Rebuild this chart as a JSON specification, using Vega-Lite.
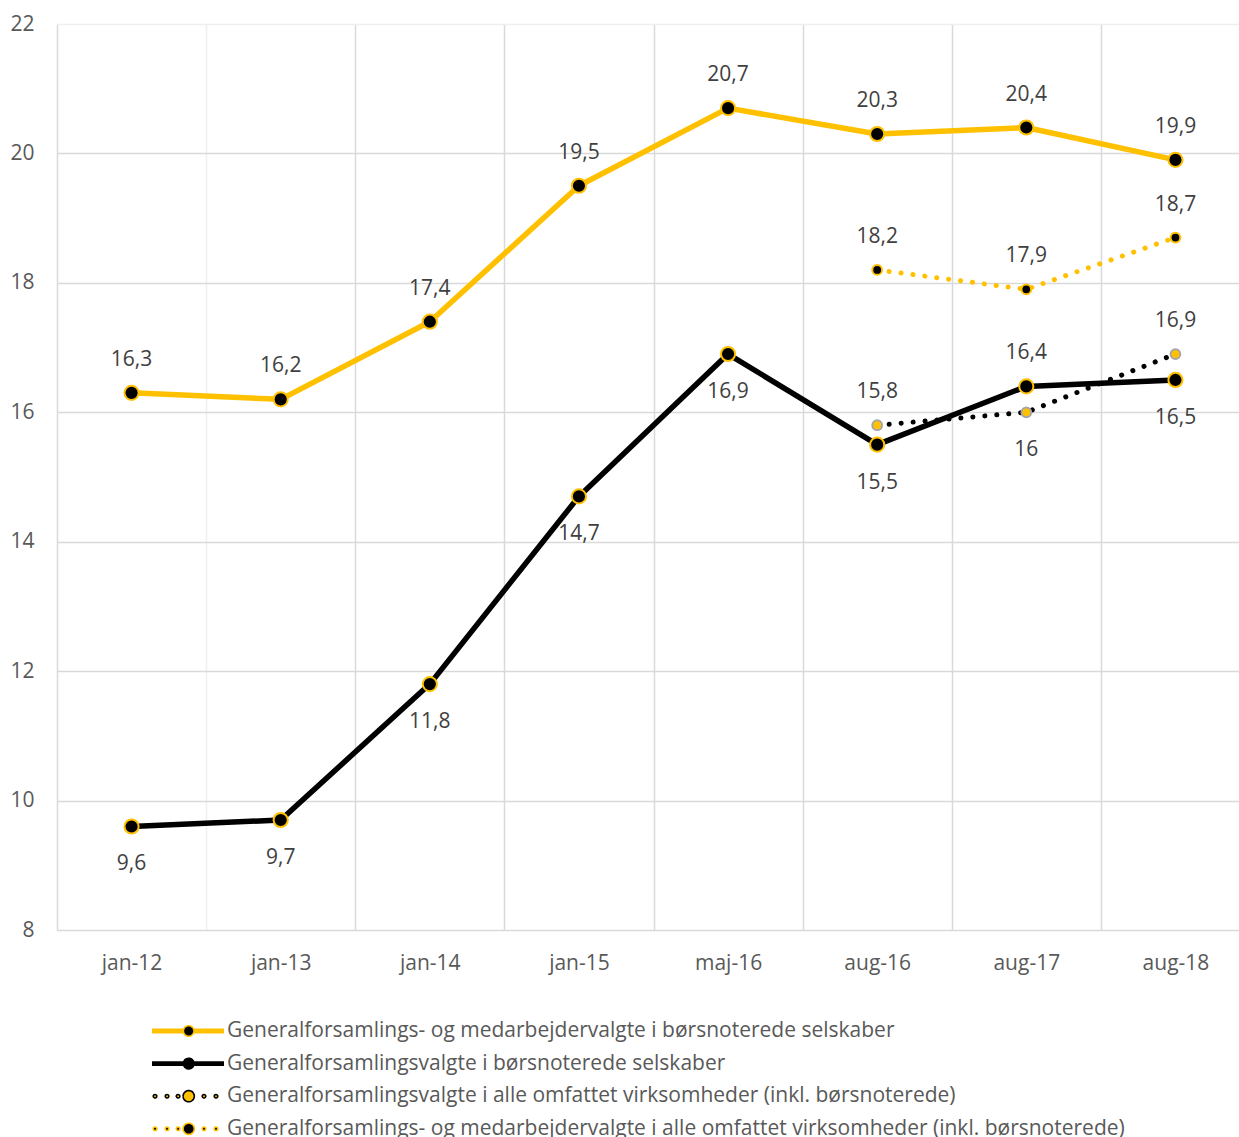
{
  "$schema": "https://vega.github.io/schema/vega-lite/v6.json",
  "autosize": "none",
  "width": 1182,
  "height": 906,
  "padding": {"left": 57, "top": 24, "right": 0, "bottom": 207},
  "background": "white",
  "config": {
    "view": {"stroke": null},
    "locale": {"number": {"decimal": ",", "thousands": ".", "grouping": [3], "currency": ["", " kr."]}},
    "font": "Open Sans"
  },
  "data": {
    "values": [
      {"periode": "jan-12", "serie": "Generalforsamlings- og medarbejdervalgte i børsnoterede selskaber", "andel": 16.3},
      {"periode": "jan-13", "serie": "Generalforsamlings- og medarbejdervalgte i børsnoterede selskaber", "andel": 16.2},
      {"periode": "jan-14", "serie": "Generalforsamlings- og medarbejdervalgte i børsnoterede selskaber", "andel": 17.4},
      {"periode": "jan-15", "serie": "Generalforsamlings- og medarbejdervalgte i børsnoterede selskaber", "andel": 19.5},
      {"periode": "maj-16", "serie": "Generalforsamlings- og medarbejdervalgte i børsnoterede selskaber", "andel": 20.7},
      {"periode": "aug-16", "serie": "Generalforsamlings- og medarbejdervalgte i børsnoterede selskaber", "andel": 20.3},
      {"periode": "aug-17", "serie": "Generalforsamlings- og medarbejdervalgte i børsnoterede selskaber", "andel": 20.4},
      {"periode": "aug-18", "serie": "Generalforsamlings- og medarbejdervalgte i børsnoterede selskaber", "andel": 19.9},
      {"periode": "jan-12", "serie": "Generalforsamlingsvalgte i børsnoterede selskaber", "andel": 9.6},
      {"periode": "jan-13", "serie": "Generalforsamlingsvalgte i børsnoterede selskaber", "andel": 9.7},
      {"periode": "jan-14", "serie": "Generalforsamlingsvalgte i børsnoterede selskaber", "andel": 11.8},
      {"periode": "jan-15", "serie": "Generalforsamlingsvalgte i børsnoterede selskaber", "andel": 14.7},
      {"periode": "maj-16", "serie": "Generalforsamlingsvalgte i børsnoterede selskaber", "andel": 16.9},
      {"periode": "aug-16", "serie": "Generalforsamlingsvalgte i børsnoterede selskaber", "andel": 15.5},
      {"periode": "aug-17", "serie": "Generalforsamlingsvalgte i børsnoterede selskaber", "andel": 16.4},
      {"periode": "aug-18", "serie": "Generalforsamlingsvalgte i børsnoterede selskaber", "andel": 16.5},
      {"periode": "aug-16", "serie": "Generalforsamlingsvalgte i alle omfattet virksomheder (inkl. børsnoterede)", "andel": 15.8},
      {"periode": "aug-17", "serie": "Generalforsamlingsvalgte i alle omfattet virksomheder (inkl. børsnoterede)", "andel": 16},
      {"periode": "aug-18", "serie": "Generalforsamlingsvalgte i alle omfattet virksomheder (inkl. børsnoterede)", "andel": 16.9},
      {"periode": "aug-16", "serie": "Generalforsamlings- og medarbejdervalgte i alle omfattet virksomheder (inkl. børsnoterede)", "andel": 18.2},
      {"periode": "aug-17", "serie": "Generalforsamlings- og medarbejdervalgte i alle omfattet virksomheder (inkl. børsnoterede)", "andel": 17.9},
      {"periode": "aug-18", "serie": "Generalforsamlings- og medarbejdervalgte i alle omfattet virksomheder (inkl. børsnoterede)", "andel": 18.7}
    ]
  },
  "encoding": {
    "x": {
      "field": "periode", "type": "ordinal",
      "sort": ["jan-12", "jan-13", "jan-14", "jan-15", "maj-16", "aug-16", "aug-17", "aug-18"],
      "scale": {"range": [0, 1193], "paddingInner": 0, "paddingOuter": 0},
      "axis": {
        "title": null, "domain": false, "ticks": false, "grid": true, "tickBand": "extent",
        "gridColor": {"condition": {"test": "datum.value === 'jan-12'", "value": "#efefef"}, "value": "#d9d9d9"},
        "gridWidth": 1.5,
        "labelAngle": 0, "labelFont": "Open Sans", "labelFontSize": 21, "labelColor": "#595959", "labelPadding": 22
      }
    },
    "y": {
      "field": "andel", "type": "quantitative",
      "scale": {"domain": [8, 22], "nice": false, "zero": false},
      "axis": {
        "title": null, "domain": false, "ticks": false, "grid": true,
        "values": [8, 10, 12, 14, 16, 18, 20, 22],
        "gridColor": {"condition": {"test": "datum.value === 22", "value": "#efefef"}, "value": "#d9d9d9"},
        "gridWidth": 1.5,
        "labelFont": "Open Sans", "labelFontSize": 21, "labelColor": "#595959", "labelPadding": 23
      }
    }
  },
  "layer": [
    {
      "transform": [{"filter": {"field": "serie", "oneOf": ["Generalforsamlings- og medarbejdervalgte i børsnoterede selskaber", "Generalforsamlingsvalgte i børsnoterede selskaber"]}}],
      "mark": {"type": "line", "strokeWidth": 5.5, "strokeCap": "round", "strokeJoin": "round"},
      "encoding": {
        "stroke": {
          "field": "serie", "type": "nominal",
          "scale": {
            "domain": ["Generalforsamlings- og medarbejdervalgte i børsnoterede selskaber", "Generalforsamlingsvalgte i børsnoterede selskaber", "Generalforsamlingsvalgte i alle omfattet virksomheder (inkl. børsnoterede)", "Generalforsamlings- og medarbejdervalgte i alle omfattet virksomheder (inkl. børsnoterede)"],
            "range": ["#FFC000", "#000000", "#000000", "#FFC000"]
          },
          "legend": {
            "orient": "none", "legendX": 134, "legendY": 990, "direction": "vertical",
            "title": null, "padding": 0, "offset": 0,
            "symbolSize": 1024, "labelOffset": 2, "rowPadding": 5.6, "labelLimit": 0,
            "labelFont": "Open Sans", "labelFontSize": 21, "labelColor": "#595959",
            "encode": {
              "symbols": {
                "update": {
                  "shape": {"signal": "(datum.value === 'Generalforsamlingsvalgte i alle omfattet virksomheder (inkl. børsnoterede)' || datum.value === 'Generalforsamlings- og medarbejdervalgte i alle omfattet virksomheder (inkl. børsnoterede)') ? 'M-3.42,0A0.11,0.11 0 1,0 -3.2,0A0.11,0.11 0 1,0 -3.42,0ZM-2.67,0A0.11,0.11 0 1,0 -2.45,0A0.11,0.11 0 1,0 -2.67,0ZM-1.98,0A0.11,0.11 0 1,0 -1.76,0A0.11,0.11 0 1,0 -1.98,0ZM-0.36,0A0.11,0.11 0 1,0 -0.14,0A0.11,0.11 0 1,0 -0.36,0ZM0.39,0A0.11,0.11 0 1,0 0.61,0A0.11,0.11 0 1,0 0.39,0ZM-1.557,0A0.351,0.351 0 1,0 -0.855,0A0.351,0.351 0 1,0 -1.557,0Z' : 'M-3.5,-0.1H-1.53M-3.5,0H-1.53M-3.5,0.1H-1.53M-0.88,-0.1H1M-0.88,0H1M-0.88,0.1H1M-1.537,0A0.331,0.331 0 1,0 -0.875,0A0.331,0.331 0 1,0 -1.537,0Z'"},
                  "fill": {"signal": "datum.value === 'Generalforsamlingsvalgte i alle omfattet virksomheder (inkl. børsnoterede)' ? '#FFC000' : '#000000'"},
                  "stroke": {"signal": "(datum.value === 'Generalforsamlings- og medarbejdervalgte i børsnoterede selskaber' || datum.value === 'Generalforsamlings- og medarbejdervalgte i alle omfattet virksomheder (inkl. børsnoterede)') ? '#FFC000' : '#000000'"},
                  "strokeWidth": {"value": 1.6},
                  "strokeDash": {"value": [1, 0]},
                  "opacity": {"value": 1},
                  "fillOpacity": {"value": 1}
                }
              }
            }
          }
        }
      }
    },
    {
      "transform": [{"filter": {"field": "serie", "oneOf": ["Generalforsamlingsvalgte i alle omfattet virksomheder (inkl. børsnoterede)", "Generalforsamlings- og medarbejdervalgte i alle omfattet virksomheder (inkl. børsnoterede)"]}}],
      "mark": {"type": "line", "strokeWidth": 5, "strokeCap": "round", "strokeDash": [0.1, 11.9]},
      "encoding": {
        "stroke": {"field": "serie", "type": "nominal"}
      }
    },
    {
      "transform": [{"filter": {"field": "serie", "oneOf": ["Generalforsamlings- og medarbejdervalgte i børsnoterede selskaber", "Generalforsamlingsvalgte i børsnoterede selskaber"]}}],
      "mark": {"type": "circle", "size": 200, "fill": "#000000", "stroke": "#FFC000", "strokeWidth": 2, "opacity": 1}
    },
    {
      "transform": [{"filter": {"field": "serie", "equal": "Generalforsamlings- og medarbejdervalgte i alle omfattet virksomheder (inkl. børsnoterede)"}}],
      "mark": {"type": "circle", "size": 95, "fill": "#000000", "stroke": "#FFC000", "strokeWidth": 2, "opacity": 1}
    },
    {
      "transform": [{"filter": {"field": "serie", "equal": "Generalforsamlingsvalgte i alle omfattet virksomheder (inkl. børsnoterede)"}}],
      "mark": {"type": "circle", "size": 95, "fill": "#FFC000", "stroke": "#A6A6A6", "strokeWidth": 2, "opacity": 1}
    },
    {
      "transform": [{"filter": "!((datum.serie === 'Generalforsamlingsvalgte i børsnoterede selskaber' && datum.periode !== 'aug-17') || (datum.serie === 'Generalforsamlingsvalgte i alle omfattet virksomheder (inkl. børsnoterede)' && datum.periode === 'aug-17'))"}],
      "mark": {"type": "text", "dy": -33, "font": "Open Sans", "fontSize": 21, "color": "#404040"},
      "encoding": {"text": {"field": "andel", "type": "quantitative", "format": ".1~f"}}
    },
    {
      "transform": [{"filter": "(datum.serie === 'Generalforsamlingsvalgte i børsnoterede selskaber' && datum.periode !== 'aug-17') || (datum.serie === 'Generalforsamlingsvalgte i alle omfattet virksomheder (inkl. børsnoterede)' && datum.periode === 'aug-17')"}],
      "mark": {"type": "text", "dy": 38, "font": "Open Sans", "fontSize": 21, "color": "#404040"},
      "encoding": {"text": {"field": "andel", "type": "quantitative", "format": ".1~f"}}
    }
  ]
}
